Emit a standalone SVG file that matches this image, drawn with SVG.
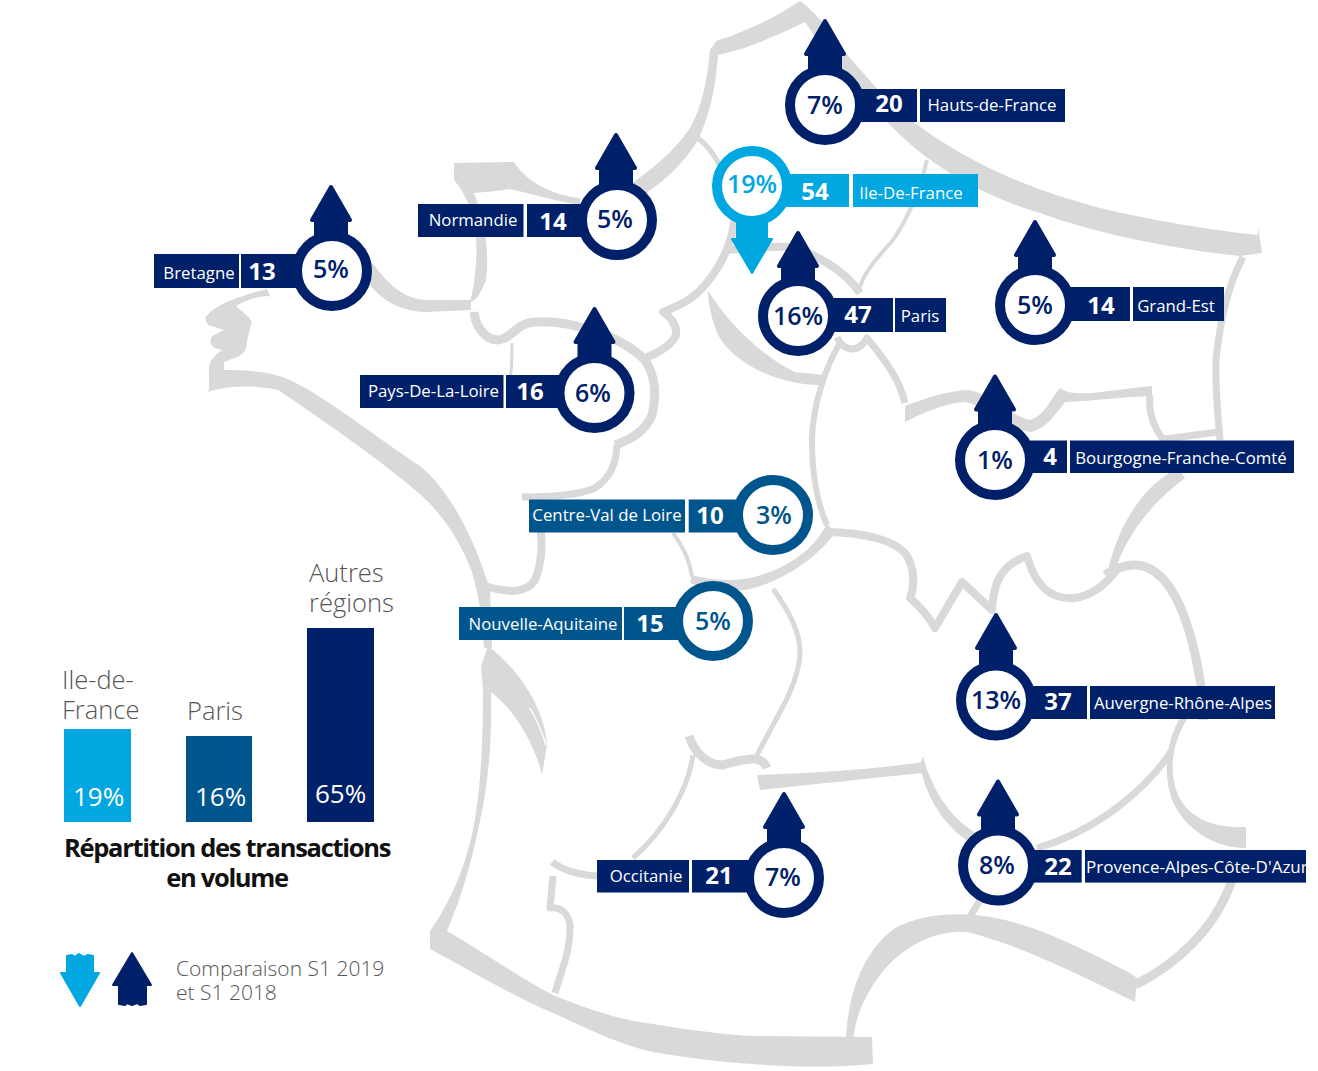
<svg xmlns="http://www.w3.org/2000/svg" width="1318" height="1071" viewBox="0 0 1318 1071">
<style>
text{font-family:"Open Sans","Liberation Sans",sans-serif}
.m{fill:#d9d9d9}
.s{fill:none;stroke:#d9d9d9;stroke-linejoin:round}
.navy{fill:#002169}.cyan{fill:#00a7e1}.mid{fill:#00568c}
.ring{fill:#fff;stroke-width:10}
.pct{font-size:25px;font-weight:600;text-anchor:middle}
.num{font-size:24px;font-weight:700;fill:#fff;text-anchor:middle}
.lab{font-size:16.800px;fill:#fff;text-anchor:middle}
.big{font-size:25.500px;font-weight:300;fill:#555}
.bar{font-size:26px;font-weight:400;fill:#fff}
.tit{font-size:25.500px;font-weight:700;fill:#111;text-anchor:middle;letter-spacing:-1.3px}
.leg{font-size:21px;font-weight:300;fill:#555}
</style>
<defs>
<path id="up" d="M0,2 L-19,35 H-15 V62 H15 V35 H19 Z" stroke-width="4" stroke-linejoin="round"/>
<path id="down" d="M-15,-2 V53 H-20 L0,87 L20,53 H15 V-2 Z" stroke-width="2" stroke-linejoin="round"/>
</defs>
<g id="map">
<path class="m" d="M800,1 C820,15 835,40 850,58 C870,80 885,100 905,115 C960,160 1030,190 1100,208 C1150,220 1210,230 1258,235 L1258,226 L1262,253 L1240,256 C1180,250 1100,235 1040,213 C980,195 930,165 895,130 C870,105 830,60 805,22 C770,35 750,45 725,52 Z"/>
<path class="m" d="M800,1 C775,18 745,32 716,41 L710,50 C708,75 703,105 690,128 C672,155 640,180 605,200 L612,212 C650,195 680,170 698,140 C712,110 716,80 718,55 C750,48 775,36 805,22 Z"/>
<path class="s" stroke-width="5" d="M693,135 C705,142 715,155 722,170"/>
<path class="s" stroke-width="8" d="M735,215 C733,240 722,265 705,285 C695,297 685,303 668,310 L663,312 C672,318 677,325 676,335 C672,345 660,352 645,358"/>
<path class="s" stroke-width="9" d="M474,312 C476,330 490,345 505,338 C515,332 522,322 535,322 C570,320 620,335 645,360 C655,375 657,395 652,415 C645,432 630,440 615,445"/>
<path class="s" stroke-width="7" d="M617,445 C616,465 610,478 595,488 C580,495 555,497 522,497"/>
<path class="s" stroke-width="8" d="M532,500 C543,525 545,555 535,580 C525,595 505,592 485,586"/>
<path class="m" d="M372,262 C385,280 400,298 425,300 L471,300 L471,310 L425,312 C400,312 380,298 370,285 Z"/>
<path class="m" d="M454,163 L514,162 C525,180 550,195 580,198 L580,205 C550,200 525,192 509,189 C495,192 480,192 474,193 C484,220 490,250 486,280 C482,290 478,300 470,302 C476,280 480,240 472,215 C468,200 462,190 454,180 Z"/>
<path class="s" stroke-width="3" d="M512,343 C512,360 512,370 510,378"/>
<path class="m" d="M267,289 C245,295 215,303 205,318 L208,325 L224,330 L212,336 C208,345 212,348 222,350 C215,355 208,362 209,370 L209,390 L224,369 L224,362 C235,358 245,355 246,348 C248,335 250,328 252,322 C248,315 240,310 236,306 C245,300 258,296 270,296 Z"/>
<path class="m" d="M223,370 C250,370 270,372 285,378 C320,392 380,440 420,466 C450,490 475,540 490,590 L492,648 L484,648 C482,620 480,600 472,572 C460,540 440,510 415,490 C380,460 330,425 278,390 C255,385 230,385 207,392 Z"/>
<path class="m" d="M488,646 C520,670 545,710 547,745 L542,775 C535,745 515,710 491,692 L483,690 L481,666 Z"/>
<path class="s" style="stroke:#fff" stroke-width="1.500" d="M530,708 C538,722 543,735 546,745"/>
<path class="m" d="M483,688 L491,690 C492,730 490,780 478,830 C470,870 458,905 447,931 C480,950 515,975 553,995 C590,1010 620,1020 653,1024 C690,1030 720,1034 753,1036 L872,1037 L873,1064 C830,1068 790,1067 753,1064 C720,1062 690,1058 653,1052 C620,1045 590,1030 553,1013 C510,995 470,970 430,949 L430,931 C445,910 460,880 468,850 C480,810 483,750 483,688 Z"/>
<path class="m" d="M846,1040 C848,990 865,950 895,928 C920,915 950,913 975,915 C1030,920 1085,950 1130,973 L1137,978 L1135,1002 C1080,975 1020,945 967,932 C930,930 900,950 880,975 C865,995 856,1015 853,1040 Z"/>
<path class="s" stroke-width="9" d="M1135,985 C1175,965 1215,930 1232,880"/>
<path class="s" stroke-width="9" d="M1105,575 C1120,565 1140,560 1155,572 C1180,590 1195,640 1203,700 L1203,720"/>
<path class="m" d="M1190,715 C1172,740 1168,770 1178,795 C1190,820 1215,828 1246,827 L1246,848 C1215,848 1185,830 1172,800 C1163,775 1165,740 1182,715 Z"/>
<path class="s" stroke-width="7" d="M1172,750 C1150,785 1100,830 1037,848"/>
<path class="s" stroke-width="8" d="M830,532 C860,533 890,538 905,553 C915,567 915,585 910,598 C918,605 928,615 935,628 L962,582 L992,610 C993,585 1000,565 1027,556 C1035,585 1050,600 1075,598 C1095,595 1110,580 1120,565"/>
<path class="m" d="M1108,570 C1120,520 1145,485 1178,468 L1185,478 C1155,500 1130,530 1117,565 Z"/>
<path class="m" d="M905,406 C925,398 950,390 970,390 C990,395 1010,415 1030,420 C1045,415 1050,400 1060,388 C1075,398 1095,392 1152,386 L1152,396 C1110,398 1080,402 1065,402 C1055,415 1045,430 1030,432 C1005,428 985,405 965,402 C945,403 925,412 905,422 Z"/>
<path class="s" stroke-width="7" d="M1150,395 C1148,410 1153,430 1168,445 M1165,439 L1218,432"/>
<path class="s" stroke-width="7" d="M1243,257 C1228,285 1220,320 1216,360 C1215,390 1218,415 1220,440"/>
<path class="m" d="M708,290 C725,320 760,355 795,372 L825,375 L820,385 C780,385 735,365 718,335 C712,320 708,305 708,290 Z"/>
<path class="s" stroke-width="8" d="M727,250 C750,248 770,246 787,247 C810,250 845,270 860,293"/>
<path class="s" stroke-width="4" d="M860,287 C865,270 880,255 893,240 C910,215 920,190 927,160"/>
<path class="s" stroke-width="7" d="M837,337 C842,350 858,355 867,338 C885,360 900,380 905,403"/>
<path class="s" stroke-width="6" d="M842,340 C825,365 812,410 812,440 C812,475 818,505 827,525"/>
<path class="m" d="M827,523 L835,533 C815,560 780,583 745,590 C725,592 705,590 690,583 L692,575 C710,580 730,582 750,578 C785,570 815,550 827,523 Z"/>
<path class="s" stroke-width="4" d="M673,533 C682,545 690,560 692,577"/>
<path class="s" stroke-width="5" d="M773,589 C790,612 800,635 800,652 C800,670 790,695 780,712 L757,755"/>
<path class="s" stroke-width="9" d="M689,736 C695,755 710,765 722,765 C735,762 745,758 755,759 C762,760 765,763 767,768"/>
<path class="m" d="M757,775 C810,773 870,770 923,762 L923,773 C870,778 810,785 760,790 Z"/>
<path class="s" stroke-width="5" d="M693,755 C688,790 665,830 633,858"/>
<path class="s" stroke-width="7" d="M552,862 C565,872 585,876 600,876"/>
<path class="s" stroke-width="7" d="M553,876 L550,908 C560,907 568,912 570,925 C571,950 560,975 555,993"/>
<path class="m" d="M923,756 C930,785 950,822 985,838 L975,845 C945,830 925,795 920,765 Z"/>
<path class="s" stroke-width="7" d="M1010,850 L965,925"/>
</g>
<g id="connectors"></g>
<g id="node-hauts-de-france">
<use href="#up" class="navy" stroke="#002169" x="825" y="19"/>
<rect class="navy" x="860" y="89" width="57" height="33"/><rect class="navy" x="920" y="89" width="145" height="33"/>
<circle cx="825" cy="105" r="35" class="ring" stroke="#002169"/>
<text class="pct" x="825" y="114" fill="#002169">7%</text><text class="num" x="889" y="112">20</text><text class="lab" x="992" y="111">Hauts-de-France</text>
</g>
<g id="node-ile-de-france">
<use href="#down" class="cyan" stroke="#00a7e1" x="752" y="186"/>
<rect class="cyan" x="785" y="174" width="64" height="33"/><rect class="cyan" x="853" y="174" width="125" height="33"/>
<circle cx="752" cy="186" r="35" class="ring" stroke="#00a7e1"/>
<text class="pct" x="752" y="193" fill="#00a7e1">19%</text><text class="num" x="815" y="200">54</text><text class="lab" x="911" y="199">Ile-De-France</text>
</g>
<g id="node-paris">
<use href="#up" class="navy" stroke="#002169" x="798" y="231"/>
<rect class="navy" x="830" y="298" width="63" height="34"/><rect class="navy" x="895" y="298" width="51" height="34"/>
<circle cx="798" cy="316" r="35" class="ring" stroke="#002169"/>
<text class="pct" x="798" y="325" fill="#002169">16%</text><text class="num" x="858" y="323">47</text><text class="lab" x="920" y="322">Paris</text>
</g>
<g id="node-grand-est">
<use href="#up" class="navy" stroke="#002169" x="1035" y="220"/>
<rect class="navy" x="1070" y="287" width="60" height="34"/><rect class="navy" x="1133" y="287" width="91" height="34"/>
<circle cx="1035" cy="305" r="35" class="ring" stroke="#002169"/>
<text class="pct" x="1035" y="314" fill="#002169">5%</text><text class="num" x="1101" y="314">14</text><text class="lab" x="1176" y="312">Grand-Est</text>
</g>
<g id="node-normandie">
<use href="#up" class="navy" stroke="#002169" x="616" y="133"/>
<rect class="navy" x="418" y="204" width="105.500" height="33"/><rect class="navy" x="527" y="204" width="58" height="33"/>
<circle cx="617" cy="220" r="35" class="ring" stroke="#002169"/>
<text class="pct" x="615" y="228" fill="#002169">5%</text><text class="num" x="553" y="230">14</text><text class="lab" x="473" y="226">Normandie</text>
</g>
<g id="node-bretagne">
<use href="#up" class="navy" stroke="#002169" x="331" y="185"/>
<rect class="navy" x="154" y="254" width="85" height="34"/><rect class="navy" x="241" y="254" width="60" height="34"/>
<circle cx="332" cy="271" r="35" class="ring" stroke="#002169"/>
<text class="pct" x="331" y="278" fill="#002169">5%</text><text class="num" x="262" y="280">13</text><text class="lab" x="199" y="279">Bretagne</text>
</g>
<g id="node-pays-de-la-loire">
<use href="#up" class="navy" stroke="#002169" x="594.500" y="307"/>
<rect class="navy" x="360" y="375" width="143.500" height="33"/><rect class="navy" x="506" y="375" width="58" height="33"/>
<circle cx="594.500" cy="393" r="35" class="ring" stroke="#002169"/>
<text class="pct" x="593" y="402" fill="#002169">6%</text><text class="num" x="530" y="400">16</text><text class="lab" x="433.500" y="397">Pays-De-La-Loire</text>
</g>
<g id="node-bourgogne-franche-comte">
<use href="#up" class="navy" stroke="#002169" x="995" y="374.500"/>
<rect class="navy" x="1030" y="440.500" width="37" height="32.500"/><rect class="navy" x="1070" y="440.500" width="224" height="32.500"/>
<circle cx="995" cy="460" r="35" class="ring" stroke="#002169"/>
<text class="pct" x="995" y="469" fill="#002169">1%</text><text class="num" x="1050" y="465">4</text><text class="lab" x="1181" y="464">Bourgogne-Franche-Comté</text>
</g>
<g id="node-centre-val-de-loire">
<rect class="mid" x="529" y="499.500" width="156" height="33"/><rect class="mid" x="688.700" y="499.500" width="56" height="33"/>
<circle cx="773" cy="515" r="35" class="ring" stroke="#00568c"/>
<text class="pct" x="774" y="524" fill="#00568c">3%</text><text class="num" x="710" y="524">10</text><text class="lab" x="607" y="521">Centre-Val de Loire</text>
</g>
<g id="node-nouvelle-aquitaine">
<rect class="mid" x="459" y="607" width="163" height="33"/><rect class="mid" x="624" y="607" width="60" height="33"/>
<circle cx="713" cy="621" r="35" class="ring" stroke="#00568c"/>
<text class="pct" x="713" y="630" fill="#00568c">5%</text><text class="num" x="650" y="632">15</text><text class="lab" x="543" y="630">Nouvelle-Aquitaine</text>
</g>
<g id="node-auvergne-rhone-alpes">
<use href="#up" class="navy" stroke="#002169" x="996" y="613"/>
<rect class="navy" x="1030" y="686" width="57" height="33"/><rect class="navy" x="1090" y="686" width="185" height="33"/>
<circle cx="996" cy="700.500" r="35" class="ring" stroke="#002169"/>
<text class="pct" x="996" y="709" fill="#002169">13%</text><text class="num" x="1058" y="710">37</text><text class="lab" x="1183" y="709">Auvergne-Rhône-Alpes</text>
</g>
<g id="node-provence-alpes-cote-dazur">
<use href="#up" class="navy" stroke="#002169" x="998" y="779.500"/>
<rect class="navy" x="1030" y="850" width="51.700" height="32.600"/><rect class="navy" x="1085" y="850" width="221" height="32.600"/>
<circle cx="998" cy="865.500" r="35" class="ring" stroke="#002169"/>
<text class="pct" x="997" y="874" fill="#002169">8%</text><text class="num" x="1058" y="875">22</text><text class="lab" x="1086" y="873" style="text-anchor:start;font-size:17px">Provence-Alpes-Côte-D'Azur</text>
</g>
<g id="node-occitanie">
<use href="#up" class="navy" stroke="#002169" x="784" y="792"/>
<rect class="navy" x="597" y="860" width="92" height="32.500"/><rect class="navy" x="692" y="860" width="60" height="32.500"/>
<circle cx="784" cy="878" r="35" class="ring" stroke="#002169"/>
<text class="pct" x="783" y="886" fill="#002169">7%</text><text class="num" x="719" y="884">21</text><text class="lab" x="646" y="882">Occitanie</text>
</g>
<g id="chart">
<rect class="cyan" x="64" y="729" width="67" height="93"/>
<rect class="mid" x="186" y="736" width="66" height="86"/>
<rect class="navy" x="307" y="628" width="67" height="194"/>
<text class="big" x="62" y="689">Ile-de-</text><text class="big" x="62" y="719">France</text>
<text class="big" x="187" y="720">Paris</text>
<text class="big" x="309" y="582">Autres</text><text class="big" x="309" y="612">régions</text>
<text class="bar" x="73" y="806">19%</text><text class="bar" x="195" y="806">16%</text><text class="bar" x="315" y="803">65%</text>
<text class="tit" x="227" y="857">Répartition des transactions</text>
<text class="tit" x="227" y="887">en volume</text>
</g>
<g id="legend">
<path class="cyan" stroke="#00a7e1" stroke-width="2" stroke-linejoin="round" d="M67,956 L72,955 L74,957 L79,954 L84,957 L88,955 L93,956 V973 H99 L80,1006 L61,973 H67 Z"/>
<path class="navy" stroke="#002169" stroke-width="2" stroke-linejoin="round" d="M132,953 L113,985 H119 V1004 L125,1005 L127,1003 L132,1005 L137,1003 L140,1005 L146,1004 V985 H151 Z"/>
<text class="leg" x="176" y="976">Comparaison S1 2019</text>
<text class="leg" x="176" y="1000">et S1 2018</text>
</g>
</svg>
